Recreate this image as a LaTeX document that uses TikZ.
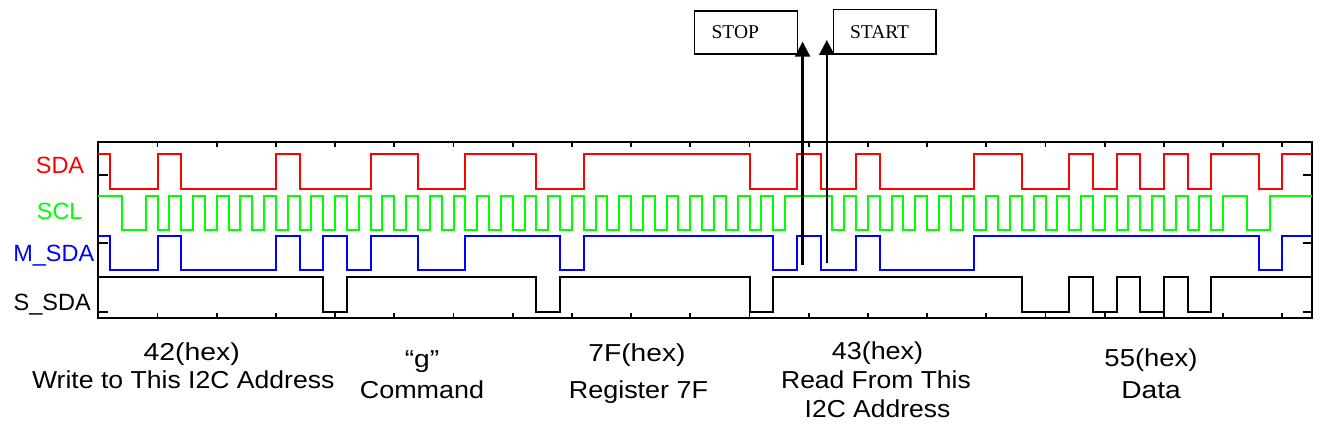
\documentclass[tikz,border=0pt]{standalone}
\usepackage{fontspec}
\setmainfont{Liberation Sans}
\newfontfamily\tmsfont{Liberation Serif}
\usepackage{graphicx}
\usetikzlibrary{arrows.meta}
\newcommand\fsz[1]{\fontsize{#1pt}{#1pt}\selectfont}
\newcommand\sxl[2]{\scalebox{#1}[1]{#2}}
\tikzset{
  sig/.style={line width=2pt, line join=miter},
  sdasig/.style={sig, draw=red},
  sclsig/.style={sig, draw=green},
  msdasig/.style={sig, draw=blue},
  ssdasig/.style={sig, draw=black},
  framebox/.style={line width=2pt},
  tickmark/.style={line width=1.8pt},
  lab/.style={anchor=base, inner sep=0pt, font=\fsz{23.5}},
  blab/.style={anchor=base, inner sep=0pt, font=\fsz{24.5}},
  flag/.style={draw, line width=1.6pt, font=\tmsfont\fsz{19.5}, align=left, inner ysep=0pt},
  marker/.style={line width=2.5pt, -{Triangle[length=15pt,width=15pt]}}
}
\begin{document}
\begin{tikzpicture}[x=1pt,y=-1pt]
\useasboundingbox (0,0) rectangle (1322,430);

\begin{scope}[x=11.84pt, y=-1pt, shift={(98.3pt,0pt)}]
  % frame
  \draw[framebox] (0,141.7) rectangle (102.5,318.3);
  \foreach \k in {5,10,...,100}{
    \draw[tickmark] (\k,141.7) -- (\k,147.4);
    \draw[tickmark] (\k,318.3) -- (\k,312.6);
  }
  \foreach \yy in {174.7,242.7,276.7,311.7}{
    \draw[tickmark] (0,\yy) -- ++(10pt,0pt);
  }
  \foreach \yy in {174.7,242.7,311.7}{
    \draw[tickmark] (102.5,\yy) -- ++(-9.3pt,0pt);
  }
  % SDA
  \draw[sdasig] (0,154.3) -| (1,189) -| (5,154.3) -| (7,189) -| (15,154.3) -| (17,189)
    -| (23,154.3) -| (27,189) -| (31,154.3) -| (37,189) -| (41,154.3) -| (55,189)
    -| (59,154.3) -| (61,189) -| (64,154.3) -| (66,189) -| (74,154.3) -| (78,189)
    -| (82,154.3) -| (84,189) -| (86,154.3) -| (88,189) -| (90,154.3) -| (92,189)
    -| (94,154.3) -| (98,189) -| (100,154.3) -- (102.5,154.3);
  % SCL
  \draw[sclsig] (0,196.3) -| (2,229.7)
    \foreach \i in {4,6,...,56}{ -| (\i,196.3) -| ({\i+1},229.7) }
    -| (58,196.3) -| (62,229.7)
    \foreach \i in {63,65,...,93}{ -| (\i,196.3) -| ({\i+1},229.7) }
    -| (95,196.3) -| (97,229.7) -| (99,196.3) -- (102.5,196.3);
  % M_SDA
  \draw[msdasig] (0,236) -| (1,270.3) -| (5,236) -| (7,270.3) -| (15,236) -| (17,270.3)
    -| (19,236) -| (21,270.3) -| (23,236) -| (27,270.3) -| (31,236) -| (39,270.3)
    -| (41,236) -| (57,270.3) -| (59,236) -| (61,270.3) -| (64,236) -| (66,270.3)
    -| (74,236) -| (98,270.3) -| (100,236) -- (102.5,236);
  % S_SDA
  \draw[ssdasig] (0,277.3) -| (19,311.7) -| (21,277.3) -| (37,311.7) -| (39,277.3)
    -| (55,311.7) -| (57,277.3) -| (78,311.7) -| (82,277.3) -| (84,311.7)
    -| (86,277.3) -| (88,311.7) -| (90,277.3) -| (92,311.7) -| (94,277.3)
    -- (102.5,277.3);
\end{scope}

% signal names
\node[lab, text=red] (lsda) at (60,173.3) {SDA};
\node[lab, text=green] (lscl) at (59.7,219.3) {SCL};
\node[lab, text=blue] (lmsda) at (53.8,261.7) {M\_SDA};
\node[lab] (lssda) at (52.2,310) {S\_SDA};

% STOP / START flags
\node[flag, text width=68.4pt, inner xsep=17.3pt, minimum height=43pt] (stopflag) at (745.8,32.5) {STOP};
\node[flag, text width=69.3pt, inner xsep=16.7pt, minimum height=44.7pt] (startflag) at (884.7,31.7) {START};
\coordinate (stopfoot) at (802.6,265);
\coordinate (stoptip) at (802.6,41.7);
\coordinate (startfoot) at (826.8,263.3);
\coordinate (starttip) at (826.8,40);
\draw[marker] (stopfoot) -- (stoptip);
\draw[marker] (startfoot) -- (starttip);

% byte labels
\node[blab] (l1a) at (191.7,360) {\sxl{1.16}{42(hex)}};
\node[blab] (l1b) at (183.3,388.3) {\sxl{1.085}{Write to This I2C Address}};
\node[blab] (l2a) at (422,367) {\sxl{1.15}{“g”}};
\node[blab] (l2b) at (422,398.5) {\sxl{1.1}{Command}};
\node[blab] (l3a) at (637,361) {\sxl{1.15}{7F(hex)}};
\node[blab] (l3b) at (638.5,398.5) {\sxl{1.1}{Register 7F}};
\node[blab] (l4a) at (877.5,359) {\sxl{1.1}{43(hex)}};
\node[blab] (l4b) at (876,388) {\sxl{1.08}{Read From This}};
\node[blab] (l4c) at (877.5,417.5) {\sxl{1.08}{I2C Address}};
\node[blab] (l5a) at (1151,366.5) {\sxl{1.12}{55(hex)}};
\node[blab] (l5b) at (1151,398) {\sxl{1.15}{Data}};
\end{tikzpicture}
\end{document}
